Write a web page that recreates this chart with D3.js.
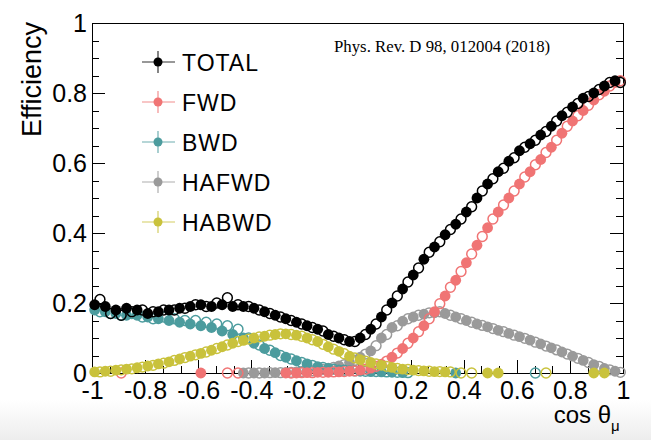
<!DOCTYPE html>
<html>
<head>
<meta charset="utf-8">
<script src="https://cdn.jsdelivr.net/npm/d3@7"></script>
<style>
  html, body { margin: 0; padding: 0; background: #fff; }
  svg { display: block; font-family: "Liberation Sans", Arial, sans-serif; }
</style>
</head>
<body>
<div class="vis-eff"></div>
<script>
// bin centres (filled = data, open = MC)
const binsFilled = [-0.99,-0.95,-0.91,-0.87,-0.83,-0.79,-0.75,-0.71,-0.67,-0.63,-0.59,-0.55,-0.51,-0.47,-0.43,-0.39,-0.35,-0.31,-0.27,-0.23,-0.19,-0.15,-0.11,-0.07,-0.03,0.01,0.05,0.09,0.13,0.17,0.21,0.25,0.29,0.33,0.37,0.41,0.45,0.49,0.53,0.57,0.61,0.65,0.69,0.73,0.77,0.81,0.85,0.89,0.93,0.97];
const binsOpen = [-0.97,-0.93,-0.89,-0.85,-0.81,-0.77,-0.73,-0.69,-0.65,-0.61,-0.57,-0.53,-0.49,-0.45,-0.41,-0.37,-0.33,-0.29,-0.25,-0.21,-0.17,-0.13,-0.09,-0.05,-0.01,0.03,0.07,0.11,0.15,0.19,0.23,0.27,0.31,0.35,0.39,0.43,0.47,0.51,0.55,0.59,0.63,0.67,0.71,0.75,0.79,0.83,0.87,0.91,0.95,0.99];

const totalFilled = [0.195,0.19,0.18,0.185,0.18,0.17,0.175,0.18,0.185,0.19,0.195,0.19,0.195,0.19,0.19,0.185,0.175,0.165,0.155,0.145,0.135,0.125,0.11,0.1,0.09,0.1,0.125,0.16,0.2,0.24,0.28,0.325,0.36,0.395,0.425,0.46,0.5,0.54,0.575,0.605,0.635,0.655,0.68,0.705,0.735,0.76,0.785,0.8,0.82,0.835];
const totalOpen = [0.21,0.17,0.165,0.175,0.18,0.175,0.18,0.18,0.185,0.195,0.19,0.2,0.215,0.195,0.19,0.18,0.17,0.16,0.15,0.14,0.13,0.12,0.105,0.095,0.09,0.11,0.14,0.18,0.22,0.26,0.3,0.345,0.375,0.41,0.44,0.475,0.52,0.555,0.585,0.615,0.645,0.665,0.69,0.72,0.745,0.77,0.79,0.81,0.83,0.83];

const fwdFilled = [null,null,null,null,null,null,null,null,null,null,0,null,null,null,null,null,null,null,0,0,0.001,0.002,0.002,0.003,0.005,0.008,0.014,0.025,0.045,0.07,0.1,0.135,0.175,0.22,0.265,0.315,0.365,0.415,0.46,0.5,0.54,0.575,0.61,0.645,0.685,0.72,0.75,0.78,0.805,0.83];
const fwdOpen = [null,null,0,null,null,null,null,null,null,null,null,null,0,0,null,null,null,null,0,0.001,0.001,0.002,0.003,0.004,0.006,0.011,0.019,0.034,0.057,0.085,0.118,0.155,0.198,0.245,0.29,0.34,0.39,0.44,0.48,0.52,0.56,0.595,0.63,0.665,0.705,0.735,0.765,0.795,0.82,0.835];

const bwdFilled = [0.18,0.175,0.17,0.165,0.165,0.16,0.155,0.15,0.145,0.14,0.135,0.13,0.12,0.11,0.1,0.085,0.07,0.058,0.045,0.035,0.026,0.018,0.013,0.009,0.007,0.005,0.004,0.003,0.002,0.001,null,null,null,null,0,null,null,null,null,null,null,null,null,null,null,null,null,null,null,null];
const bwdOpen = [0.175,0.17,0.165,0.17,0.16,0.155,0.16,0.155,0.15,0.15,0.145,0.14,0.135,0.125,0.1,0.08,0.065,0.05,0.04,0.03,0.022,0.016,0.011,0.008,0.006,0.005,0.004,0.003,0.002,0.001,null,null,null,null,null,null,null,null,null,null,null,0,null,null,null,null,null,null,null,null];

const hafwdFilled = [null,null,null,null,null,null,null,null,null,null,null,null,null,null,0,0,0,0.001,0.002,0.003,0.005,0.008,0.014,0.02,0.03,0.045,0.063,0.1,0.13,0.148,0.16,0.168,0.172,0.17,0.16,0.15,0.14,0.132,0.122,0.113,0.104,0.094,0.083,0.072,0.06,0.048,0.036,0.024,0.013,0.005];
const hafwdOpen = [null,null,null,null,null,null,null,null,null,null,null,null,null,null,0,0,0.001,0.001,0.002,0.004,0.006,0.01,0.016,0.024,0.036,0.054,0.078,0.11,0.135,0.155,0.165,0.172,0.175,0.165,0.155,0.145,0.136,0.127,0.118,0.108,0.099,0.088,0.077,0.066,0.054,0.042,0.03,0.019,0.009,0.002];

const habwdFilled = [0.003,0.005,0.008,0.011,0.015,0.02,0.026,0.032,0.04,0.048,0.056,0.065,0.075,0.085,0.093,0.1,0.105,0.11,0.112,0.108,0.1,0.09,0.075,0.062,0.048,0.038,0.03,0.022,0.016,0.011,0.008,0.006,0.004,0.003,null,null,null,0,0,null,null,null,null,null,null,null,null,0,0,null];
const habwdOpen = [0.003,0.005,0.009,0.012,0.017,0.022,0.028,0.036,0.044,0.052,0.06,0.07,0.08,0.09,0.097,0.103,0.108,0.112,0.11,0.105,0.095,0.082,0.068,0.055,0.043,0.034,0.026,0.019,0.013,0.01,0.007,0.005,0.004,0.003,0,0,null,null,null,null,null,null,0,null,null,null,null,null,null,null];

const seriesNames = ["TOTAL", "FWD", "BWD", "HAFWD", "HABWD"];
const seriesColors = ["#000000", "#f07474", "#4c9c9e", "#9a9a9a", "#c9c23c"];

const xTicks = [-1, -0.8, -0.6, -0.4, -0.2, 0, 0.2, 0.4, 0.6, 0.8, 1];
const yTicks = [0, 0.2, 0.4, 0.6, 0.8, 1];

const W = 651, H = 440;
const frame = { left: 92, right: 623, top: 23, bottom: 373 };

const svg = d3.select('.vis-eff').append('svg')
    .attr('width', W)
    .attr('height', H);

// faint page background like the screenshot
const defs = svg.append('defs');
const grad = defs.append('linearGradient').attr('id', 'bg').attr('x1', 0).attr('y1', 0).attr('x2', 0).attr('y2', 1);
grad.append('stop').attr('offset', '0%').attr('stop-color', '#ffffff');
grad.append('stop').attr('offset', '100%').attr('stop-color', '#ededed');
svg.append('rect').attr('x', 0).attr('y', 400).attr('width', W).attr('height', 40).attr('fill', 'url(#bg)');

let x = d3.scaleLinear().domain([-1, 1]).range([frame.left, frame.right]);
let y = d3.scaleLinear().domain([0, 1]).range([frame.bottom, frame.top]);

const ax = svg.append('g').attr('shape-rendering', 'crispEdges');

// ticks inside the frame
const xMinor = d3.range(0, 31).map(i => -1 + i / 15);
const yMinor = d3.range(0, 21).map(i => i * 0.05);

const tickAxis = (axis, tx, ty) => {
    const g = ax.append('g').attr('transform', `translate(${tx},${ty})`).call(axis);
    g.select('.domain').remove();
    g.selectAll('text').remove();
    g.selectAll('line').attr('stroke', '#000');
};
tickAxis(d3.axisTop(x).tickValues(xTicks).tickSize(13), 0, frame.bottom);
tickAxis(d3.axisTop(x).tickValues(xMinor).tickSize(7), 0, frame.bottom);
tickAxis(d3.axisRight(y).tickValues(yTicks).tickSize(13), frame.left, 0);
tickAxis(d3.axisRight(y).tickValues(yMinor).tickSize(7), frame.left, 0);
tickAxis(d3.axisLeft(y).tickValues(yTicks).tickSize(13), frame.right, 0);
tickAxis(d3.axisLeft(y).tickValues(yMinor).tickSize(7), frame.right, 0);

// frame
ax.append('rect')
    .attr('x', frame.left)
    .attr('y', frame.top)
    .attr('width', frame.right - frame.left)
    .attr('height', frame.bottom - frame.top)
    .attr('fill', 'none')
    .attr('stroke', '#000');

// tick labels
const labelAxis = (axis, tx, ty) => {
    const g = svg.append('g').attr('transform', `translate(${tx},${ty})`).call(axis);
    g.select('.domain').remove();
    g.selectAll('line').remove();
    g.attr('font-size', 25).attr('font-family', '"Liberation Sans", Arial, sans-serif');
    g.selectAll('text').attr('fill', '#000');
    return g;
};
labelAxis(d3.axisBottom(x).tickValues(xTicks).tickSize(0).tickPadding(8).tickFormat(d => String(d)), 0, frame.bottom);
labelAxis(d3.axisLeft(y).tickValues(yTicks).tickSize(0).tickPadding(5).tickFormat(d => String(d)), frame.left, 0);

// axis titles
svg.append('text')
    .attr('transform', 'rotate(-90)')
    .attr('x', -22)
    .attr('y', 41)
    .attr('text-anchor', 'end')
    .attr('font-size', 27)
    .text('Efficiency');

svg.append('text')
    .attr('x', 611)
    .attr('y', 423)
    .attr('text-anchor', 'end')
    .attr('font-size', 24)
    .text('cos θ');
svg.append('text')
    .attr('x', 611)
    .attr('y', 431)
    .attr('font-size', 15)
    .text('μ');

svg.append('text')
    .attr('x', 334)
    .attr('y', 52)
    .attr('font-family', '"Liberation Serif", "Times New Roman", serif')
    .attr('font-size', 16.8)
    .text('Phys. Rev. D 98, 012004 (2018)');

// markers
const plot = svg.append('g');
const drawSeries = (bins, vals, color, open) => {
    const pts = bins.map((b, i) => ({ c: b, v: vals[i] })).filter(d => d.v !== null);
    plot.append('g').selectAll('circle')
        .data(pts)
        .enter().append('circle')
        .attr('cx', d => x(d.c))
        .attr('cy', d => y(d.v))
        .attr('r', open ? 4.9 : 5.4)
        .attr('fill', open ? 'none' : color)
        .attr('stroke', color)
        .attr('stroke-width', open ? 1.5 : 0);
};
const drawPair = (filled, open, color) => {
    drawSeries(binsFilled, filled, color, false);
    drawSeries(binsOpen, open, color, true);
};
drawPair(hafwdFilled, hafwdOpen, seriesColors[3]);
drawPair(bwdFilled, bwdOpen, seriesColors[2]);
drawPair(fwdFilled, fwdOpen, seriesColors[1]);
drawPair(habwdFilled, habwdOpen, seriesColors[4]);
drawPair(totalFilled, totalOpen, seriesColors[0]);

// legend
const legend = svg.append('g').attr('transform', 'translate(158,62)');
const rows = legend.selectAll('g')
    .data(seriesNames)
    .enter().append('g')
    .attr('transform', (d, i) => `translate(0,${i * 40})`);
rows.append('line')
    .attr('x1', -16).attr('x2', 17).attr('y1', 0).attr('y2', 0)
    .attr('stroke', (d, i) => seriesColors[i]).attr('stroke-width', 1.2).attr('opacity', 0.8);
rows.append('line')
    .attr('x1', 0).attr('x2', 0).attr('y1', -11).attr('y2', 11)
    .attr('stroke', (d, i) => seriesColors[i]).attr('stroke-width', 1.2).attr('opacity', 0.8);
rows.append('circle')
    .attr('r', 4.5)
    .attr('fill', (d, i) => seriesColors[i]);
rows.append('text')
    .attr('x', 24)
    .attr('y', 9)
    .attr('font-size', 23)
    .attr('letter-spacing', 1)
    .text(d => d);
</script>
</body>
</html>
